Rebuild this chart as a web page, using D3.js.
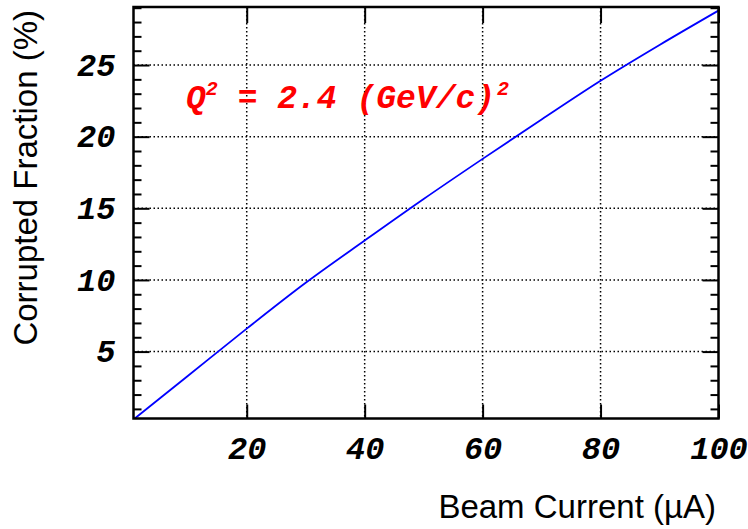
<!DOCTYPE html>
<html>
<head>
<meta charset="utf-8">
<script src="https://cdn.jsdelivr.net/npm/d3@7"></script>
<style>
  body { margin: 0; background: #fff; }
  svg { display: block; }
</style>
</head>
<body>
<svg id="chart" width="748" height="529"></svg>
<script>
// ---- data ----
const beamCurrent = [1, 10, 20, 30, 40, 50, 60, 70, 80, 90, 100];          // µA
const corruptedFraction = [0.33, 3.3, 6.6, 9.8, 12.75, 15.65, 18.45, 21.2, 23.9, 26.4, 28.8]; // %
const xTickValues = [20, 40, 60, 80, 100];
const yTickValues = [5, 10, 15, 20, 25];
const xTitle = "Beam Current (\u00B5A)";
const yTitle = "Corrupted Fraction (%)";
const annotation = { base: "Q", sup1: "2", mid: " = 2.4 (GeV/c)", sup2: "2" };

// ---- layout ----
const W = 748, H = 529;
const m = { left: 133.5, right: 29.5, top: 7, bottom: 110.5 };
const iw = W - m.left - m.right, ih = H - m.top - m.bottom;

const svg = d3.select("#chart");
const g = svg.append("g").attr("transform", `translate(${m.left},${m.top})`);

const x = d3.scaleLinear().domain([0.8, 100]).range([0, iw]);
const y = d3.scaleLinear().domain([0.33, 29.05]).range([ih, 0]);

const tickFont = "'Liberation Mono', 'Courier New', monospace";

// grid
g.append("g").selectAll("line").data(xTickValues.filter(v => v < 100)).join("line")
  .attr("x1", d => x(d)).attr("x2", d => x(d)).attr("y1", 0).attr("y2", ih)
  .attr("stroke", "#000").attr("stroke-width", 1.5).attr("stroke-dasharray", "1.5,2.5");
g.append("g").selectAll("line").data(yTickValues).join("line")
  .attr("y1", d => y(d)).attr("y2", d => y(d)).attr("x1", 0).attr("x2", iw)
  .attr("stroke", "#000").attr("stroke-width", 1.5).attr("stroke-dasharray", "1.5,2.5");

// minor y ticks
const minorY = d3.range(1, 30).filter(v => v % 5 !== 0);
function styleAxis(sel) {
  sel.select(".domain").remove();
  sel.selectAll(".tick line").attr("stroke", "#000").attr("stroke-width", 2);
}
g.append("g").call(d3.axisLeft(y).tickValues(minorY).tickSize(-8).tickFormat(""))
  .call(styleAxis);
g.append("g").attr("transform", `translate(${iw},0)`)
  .call(d3.axisRight(y).tickValues(minorY).tickSize(-8).tickFormat(""))
  .call(styleAxis);

// major axes
const yAxis = g.append("g")
  .call(d3.axisLeft(y).tickValues(yTickValues).tickSize(-16).tickPadding(18).tickFormat(d3.format("d")))
  .call(styleAxis);
g.append("g").attr("transform", `translate(${iw},0)`)
  .call(d3.axisRight(y).tickValues(yTickValues).tickSize(-16).tickFormat(""))
  .call(styleAxis);
const xAxis = g.append("g").attr("transform", `translate(0,${ih})`)
  .call(d3.axisBottom(x).tickValues(xTickValues).tickSize(-14).tickPadding(18).tickFormat(d3.format("d")))
  .call(styleAxis);
g.append("g")
  .call(d3.axisTop(x).tickValues(xTickValues).tickSize(-16).tickFormat(""))
  .call(styleAxis);

[yAxis, xAxis].forEach(a => a.selectAll("text")
  .attr("font-family", tickFont).attr("font-size", 32)
  .attr("font-weight", "bold").attr("font-style", "italic").attr("fill", "#000"));

// data line
const line = d3.line().curve(d3.curveMonotoneX).x((d, i) => x(beamCurrent[i])).y(d => y(d));
g.append("path").datum(corruptedFraction)
  .attr("d", line).attr("fill", "none").attr("stroke", "#0000ff").attr("stroke-width", 1.8);

// frame
g.append("rect").attr("x", 0).attr("y", 0).attr("width", iw).attr("height", ih)
  .attr("fill", "none").attr("stroke", "#000").attr("stroke-width", 2.5);

// annotation
const ann = svg.append("text").attr("x", 186).attr("y", 108)
  .attr("font-family", tickFont).attr("font-size", 33).attr("font-weight", "bold")
  .attr("font-style", "italic").attr("fill", "#ff0000").attr("xml:space", "preserve");
ann.append("tspan").text(annotation.base);
ann.append("tspan").attr("font-size", 20).attr("dy", -13).text(annotation.sup1);
ann.append("tspan").attr("dy", 13).text(annotation.mid);
ann.append("tspan").attr("font-size", 20).attr("dy", -13).attr("dx", 2).text(annotation.sup2);

// titles
svg.append("text").attr("x", 716).attr("y", 518).attr("text-anchor", "end")
  .attr("font-family", "'Liberation Sans', Arial, sans-serif").attr("font-size", 33)
  .attr("fill", "#000").text(xTitle);
svg.append("text").attr("transform", "translate(37,10) rotate(-90)").attr("text-anchor", "end")
  .attr("font-family", "'Liberation Sans', Arial, sans-serif").attr("font-size", 33)
  .attr("fill", "#000").text(yTitle);
</script>
</body>
</html>
